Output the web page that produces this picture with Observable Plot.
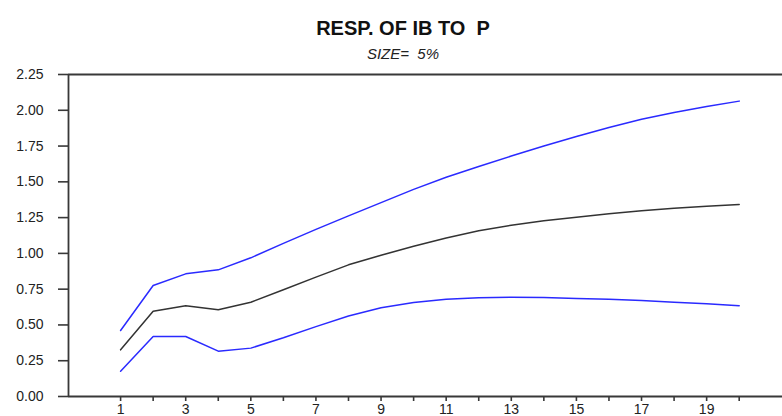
<!DOCTYPE html>
<html>
<head>
<meta charset="utf-8">
<script src="https://cdn.jsdelivr.net/npm/d3@7"></script>
<script src="https://cdn.jsdelivr.net/npm/@observablehq/plot@0.6"></script>
<style>
  html, body { margin: 0; padding: 0; background: #fff; overflow: hidden; width: 782px; height: 416px; }
  #header { width: 806px; height: 64px; position: relative; font-family: "Liberation Sans", Arial, sans-serif; }
  #title { position: absolute; top: 17px; width: 100%; text-align: center; font-weight: bold; font-size: 20px; white-space: pre; color: #111; }
  #subtitle { position: absolute; top: 45px; width: 100%; text-align: center; font-style: italic; font-size: 15px; white-space: pre; color: #222; }
  svg { display: block; }
</style>
</head>
<body>
<div id="header"><div id="title"></div><div id="subtitle"></div></div>
<div id="chart"></div>
<script>
const titleText = "RESP. OF IB TO  P";
const subtitleText = "SIZE=  5%";
const steps = [1,2,3,4,5,6,7,8,9,10,11,12,13,14,15,16,17,18,19,20];
const response = [0.326,0.596,0.634,0.606,0.659,0.746,0.834,0.920,0.987,1.050,1.108,1.158,1.197,1.228,1.253,1.277,1.298,1.316,1.330,1.342];
const upperBand = [0.461,0.776,0.857,0.885,0.969,1.070,1.168,1.262,1.355,1.447,1.532,1.607,1.680,1.750,1.817,1.880,1.937,1.985,2.027,2.064];
const lowerBand = [0.177,0.419,0.419,0.317,0.338,0.410,0.488,0.562,0.620,0.657,0.680,0.690,0.694,0.692,0.685,0.680,0.671,0.659,0.648,0.634];
const yTicks = [0,0.25,0.5,0.75,1,1.25,1.5,1.75,2,2.25];
const xTickLabels = ["1","3","5","7","9","11","13","15","17","19"];

document.getElementById("title").textContent = titleText;
document.getElementById("subtitle").textContent = subtitleText;

const rows = [];
steps.forEach((s, i) => {
  rows.push({step: s, value: upperBand[i], series: "upper"});
  rows.push({step: s, value: response[i], series: "response"});
  rows.push({step: s, value: lowerBand[i], series: "lower"});
});

const xDomain = [-0.6, 21.33];
const frameColor = "#383838";

const chart = Plot.plot({
  width: 782,
  height: 352,
  marginLeft: 68,
  marginRight: 0,
  marginTop: 10,
  marginBottom: 20,
  style: {fontFamily: "'Liberation Sans', Arial, sans-serif", fontSize: "14px", color: "#222", background: "#fff"},
  x: {domain: xDomain},
  y: {domain: [0, 2.25]},
  color: {domain: ["upper", "response", "lower"], range: ["#2a2aff", "#333333", "#2a2aff"]},
  marks: [
    Plot.axisY({ticks: yTicks, tickFormat: d3.format(".2f"), tickSize: 10, tickPadding: 15, stroke: frameColor, strokeWidth: 1.6, label: null, fontSize: 14}),
    Plot.axisX({ticks: steps, tickSize: 5, tickPadding: 3, stroke: frameColor, strokeWidth: 1.6, label: null, fontSize: 14,
      tickFormat: d => xTickLabels.includes(String(d)) ? String(d) : ""}),
    Plot.ruleY([0, 2.25], {stroke: frameColor, strokeWidth: 1.8}),
    Plot.ruleX([xDomain[0]], {y1: 0, y2: 2.25, stroke: frameColor, strokeWidth: 1.8}),
    Plot.line(rows, {x: "step", y: "value", z: "series", stroke: "series", strokeWidth: 1.5})
  ]
});
document.getElementById("chart").appendChild(chart);
</script>
</body>
</html>
